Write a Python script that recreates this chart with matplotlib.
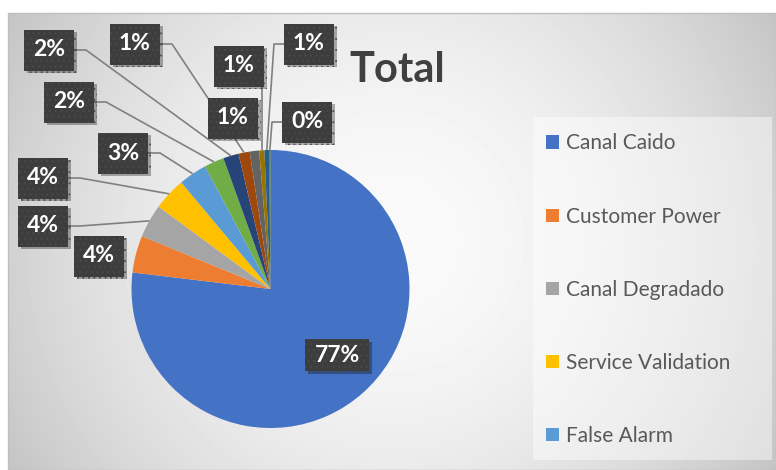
import numpy as np
import matplotlib
matplotlib.use("Agg")
import matplotlib.pyplot as plt
import matplotlib.patheffects as pe
from matplotlib.patches import Rectangle

plt.rcParams["font.family"] = ["Lato", "DejaVu Sans"]
plt.rcParams["hatch.linewidth"] = 0.6

# ── Data ────────────────────────────────────────────────────────────────────
categories = ["Canal Caido", "Customer Power", "Canal Degradado",
              "Service Validation", "False Alarm", "Categoria 6", "Categoria 7",
              "Categoria 8", "Categoria 9", "Categoria 10", "Categoria 11",
              "Categoria 12"]
values = [76.9, 4.3, 3.9, 3.8, 3.3, 2.3, 1.8, 1.3, 1.1, 0.6, 0.55, 0.15]
colors = ["#4472C4", "#ED7D31", "#A5A5A5", "#FFC000", "#5B9BD5", "#70AD47",
          "#264478", "#9E480E", "#636363", "#997300", "#255E91", "#43682B"]
n_legend = 5

# ── Layout (pixel units, y measured from top) ──────────────────────────────
W, H = 776, 470
pie_center = (270.5, 289)
pie_radius = 139
label_centers = [(337, 355), (99, 256), (43, 226), (43, 178), (123, 153),
                 (69, 102), (49, 50), (135, 44), (233, 118), (239, 66),
                 (309, 44), (307, 122)]


def up(y):
    return H - y


fig = plt.figure(figsize=(W / 100, H / 100), dpi=100)
ax = fig.add_axes([0, 0, 1, 1])

# chart-area radial gradient
yy, xx = np.mgrid[13:H, 8:W]
d = np.hypot(xx - 392, yy - 241)
grey = 250 - 54 * (d / 446) ** 1.8
ax.imshow(grey, cmap="gray", vmin=0, vmax=255, extent=(8, W, 0, up(13)),
          origin="upper", aspect="auto", zorder=0)
ax.add_patch(Rectangle((8, 0), W - 8, up(13), fill=False,
                       edgecolor="#bfbfbf", lw=1, zorder=1))

wedges, _ = ax.pie(values, colors=colors, startangle=90, counterclock=False,
                   center=(pie_center[0], up(pie_center[1])), radius=pie_radius,
                   wedgeprops=dict(linewidth=0, zorder=2))

# data labels
shadow = [pe.withSimplePatchShadow(offset=(2, -2), shadow_rgbFace="black", alpha=0.3)]
for i, (w, v) in enumerate(zip(wedges, values)):
    cx, cy = label_centers[i]
    cy = up(cy)
    bw, bh = (64, 32) if i == 0 else (50, 41)
    box = Rectangle((cx - bw / 2, cy - bh / 2), bw, bh, facecolor="#3d3d3d",
                    edgecolor="#4b4b4b", hatch="...", lw=0, zorder=5,
                    path_effects=shadow)
    ax.add_patch(box)
    ax.text(cx, cy, f"{v:.0f}%", color="white", fontsize=16.5, fontweight="bold",
            ha="center", va="center", zorder=6)
    if i == 0:
        continue
    mid = np.deg2rad((w.theta1 + w.theta2) / 2)
    axx = w.center[0] + w.r * np.cos(mid)
    ayy = w.center[1] + w.r * np.sin(mid)
    left, right = cx - bw / 2, cx + bw / 2
    if axx > right + 5:
        xs, ys = [right, right + 12, axx], [cy, cy, ayy]
    elif axx < left - 5:
        xs, ys = [left, left - 10, axx], [cy, cy, ayy]
    else:
        xs, ys = [axx, axx], [cy - bh / 2, ayy]
    if np.hypot(xs[0] - axx, ys[0] - ayy) < 20:
        continue
    ax.plot(xs, ys, color="#808080", lw=1.2, zorder=4, solid_capstyle="butt")

ax.text(397, up(82), "Total", fontsize=30, fontweight="bold", color="#404040",
        ha="center", va="baseline", zorder=6)

# legend
ax.add_patch(Rectangle((533, up(460)), 239, 343, facecolor="white", alpha=0.45,
                       lw=0, zorder=1))
fig.legend(wedges[:n_legend], categories[:n_legend], loc="upper left",
           bbox_to_anchor=(536 / W, 1 - 123 / H), frameon=False, fontsize=15,
           labelcolor="#595959", handlelength=0.6, handleheight=0.6,
           handletextpad=0.34, labelspacing=2.55, borderpad=0)

ax.set_xlim(0, W)
ax.set_ylim(0, H)
ax.axis("off")
fig.savefig("out.png", dpi=100, facecolor="white")
